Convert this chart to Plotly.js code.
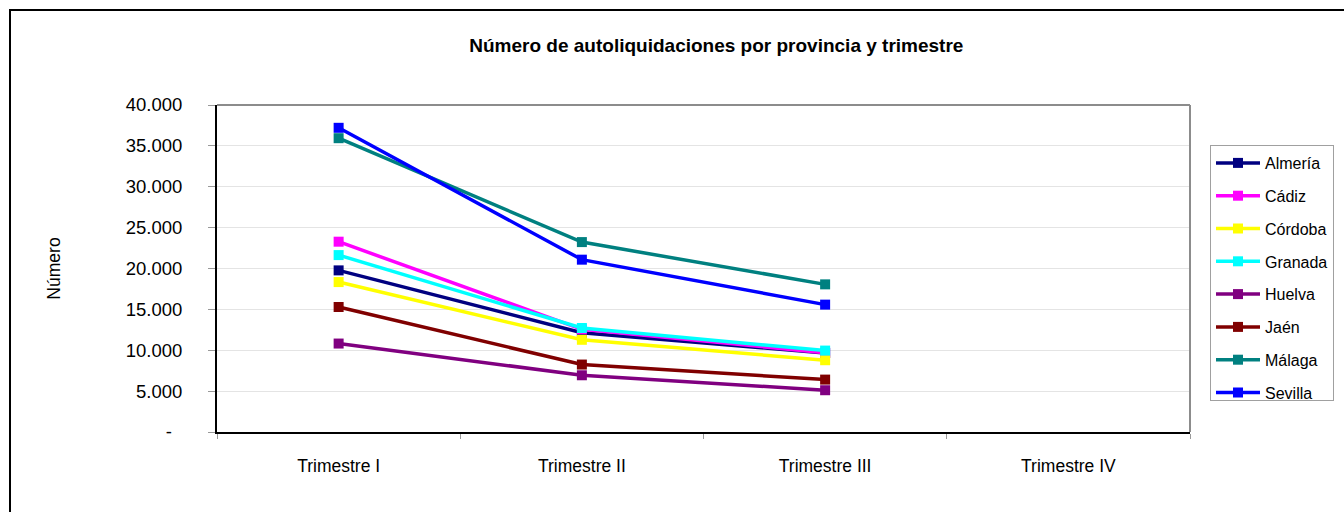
<!DOCTYPE html>
<html><head><meta charset="utf-8">
<script src="https://cdn.plot.ly/plotly-3.0.1.min.js"></script>
<style>
html,body{margin:0;padding:0;background:#fff;overflow:hidden;}
#chart{position:absolute;left:0;top:0;width:1344px;height:512px;}
#frame{position:absolute;left:9px;top:9px;width:1344px;height:512px;border:2px solid #000;pointer-events:none;}
</style></head>
<body>
<div id="chart"></div>
<div id="frame"></div>
<script>
const categories = ['Trimestre I', 'Trimestre II', 'Trimestre III', 'Trimestre IV'];
const seriesNames = ['Almería', 'Cádiz', 'Córdoba', 'Granada', 'Huelva', 'Jaén', 'Málaga', 'Sevilla'];
const almeria = [19770, 12150, 9650, null];
const cadiz   = [23280, 12560, 9700, null];
const cordoba = [18340, 11280, 8780, null];
const granada = [21640, 12720, 9960, null];
const huelva  = [10820, 6940, 5110, null];
const jaen    = [15290, 8250, 6410, null];
const malaga  = [35940, 23230, 18060, null];
const sevilla = [37210, 21080, 15580, null];
const seriesColors = ['#000080', '#FF00FF', '#FFFF00', '#00FFFF', '#800080', '#800000', '#008080', '#0000FF'];
const yTickValues = [0, 5000, 10000, 15000, 20000, 25000, 30000, 35000, 40000];
const yTickLabels = ['-\u00a0\u00a0', '5.000', '10.000', '15.000', '20.000', '25.000', '30.000', '35.000', '40.000'];

const allSeries = [almeria, cadiz, cordoba, granada, huelva, jaen, malaga, sevilla];
const FONT = '"Liberation Sans", Arial, sans-serif';

const traces = allSeries.map((vals, i) => ({
  type: 'scatter',
  mode: 'lines+markers',
  name: seriesNames[i],
  legendgroup: 'g' + i,
  x: categories,
  y: vals,
  line: {color: seriesColors[i], width: 3.5},
  marker: {color: seriesColors[i], symbol: 'square', size: 10},
  connectgaps: false
}));

const layout = {
  width: 1344, height: 512,
  margin: {l: 217, r: 154, t: 105, b: 80},
  paper_bgcolor: '#fff', plot_bgcolor: '#fff',
  font: {family: FONT, color: '#000'},
  title: {
    text: '<b>Número de autoliquidaciones por provincia y trimestre</b>',
    font: {family: FONT, size: 19, color: '#000'},
    x: 0.533, xref: 'container', xanchor: 'center',
    y: 1 - 45 / 512, yref: 'container', yanchor: 'middle'
  },
  xaxis: {
    type: 'category',
    categoryorder: 'array', categoryarray: categories,
    range: [-0.5, 3.5],
    tickson: 'boundaries',
    ticks: 'outside', ticklen: 5, tickcolor: '#999', tickwidth: 1,
    showline: true, linecolor: '#000', linewidth: 2,
    showgrid: false, zeroline: false,
    tickfont: {family: FONT, size: 17.5, color: '#000'},
    ticklabelstandoff: 17,
    fixedrange: true
  },
  yaxis: {
    range: [0, 40000],
    tickmode: 'array', tickvals: yTickValues, ticktext: yTickLabels,
    ticks: 'outside', ticklen: 7, tickcolor: '#999', tickwidth: 1,
    showline: true, linecolor: '#000', linewidth: 2,
    showgrid: true, gridcolor: '#e4e4e4', gridwidth: 1,
    zeroline: false,
    tickfont: {family: FONT, size: 18.5, color: '#000'},
    ticklabelstandoff: 22,
    title: {text: 'Número', font: {family: FONT, size: 17.5, color: '#000'}, standoff: 61},
    fixedrange: true
  },
  shapes: [
    {type: 'line', xref: 'paper', yref: 'paper', x0: 0, x1: 1, y0: 1, y1: 1, line: {color: '#8c8c8c', width: 2}},
    {type: 'line', xref: 'paper', yref: 'paper', x0: 1, x1: 1, y0: 0, y1: 1, line: {color: '#8c8c8c', width: 2}}
  ],
  showlegend: true,
  legend: {
    xref: 'container', yref: 'container',
    x: 1210 / 1344, xanchor: 'left',
    y: 1 - 145 / 512, yanchor: 'top',
    bordercolor: '#a0a0a0', borderwidth: 1,
    bgcolor: '#fff',
    font: {family: FONT, size: 16, color: '#000'},
    traceorder: 'grouped',
    tracegroupgap: 9,
    itemwidth: 44
  }
};

Plotly.newPlot('chart', traces, layout, {displayModeBar: false, staticPlot: true});
</script>
</body></html>
